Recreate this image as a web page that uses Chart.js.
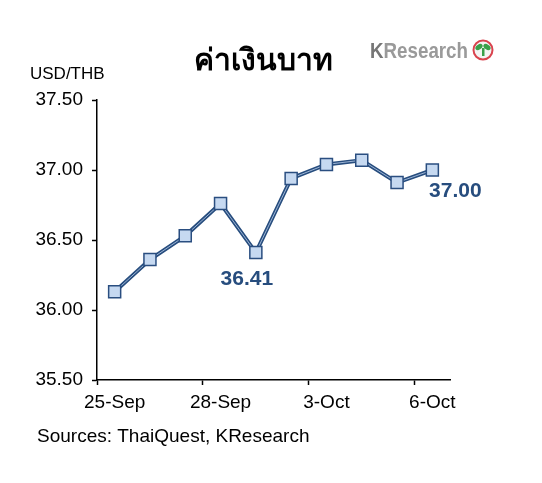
<!DOCTYPE html>
<html>
<head>
<meta charset="utf-8">
<script src="https://cdn.jsdelivr.net/npm/chart.js@4.4.0/dist/chart.umd.min.js"></script>
<style>
  html, body { margin: 0; padding: 0; background: #fff; }
  #wrap { position: relative; width: 542px; height: 483px; }
</style>
</head>
<body>
<div id="wrap"><canvas id="fxChart"></canvas></div>
<script>
// ข้อมูลค่าเงินบาท (USD/THB)
const dates = ['25-Sep', '26-Sep', '27-Sep', '28-Sep', '29-Sep', '2-Oct', '3-Oct', '4-Oct', '5-Oct', '6-Oct'];
const usdThb = [36.13, 36.36, 36.53, 36.76, 36.41, 36.94, 37.04, 37.07, 36.91, 37.00];
const yTicks = [35.5, 36.0, 36.5, 37.0, 37.5];
const labelledPoints = [4, 9]; // จุดที่มีป้ายค่า

const titleText = 'ค่าเงินบาท';
const unitText = 'USD/THB';
const sourceText = 'Sources: ThaiQuest, KResearch';
const blue = '#274d7e';

// ข้อความประกอบ, โลโก้ และป้ายค่า
const extras = {
  id: 'extras',
  afterDatasetsDraw(chart) {
    const ctx = chart.ctx;
    const meta = chart.getDatasetMeta(1);
    ctx.save();
    ctx.fillStyle = blue;
    ctx.font = 'bold 21px "Liberation Sans", Arial, sans-serif';
    ctx.textAlign = 'center';
    ctx.textBaseline = 'middle';
    labelledPoints.forEach(i => {
      const p = meta.data[i];
      const v = usdThb[i].toFixed(2);
      if (i === 4) ctx.fillText(v, p.x - 9, p.y + 27);
      else ctx.fillText(v, p.x + 23, p.y + 21);
    });
    ctx.restore();
  },
  afterDraw(chart) {
    const ctx = chart.ctx;
    ctx.save();
    ctx.fillStyle = '#000';
    ctx.textBaseline = 'alphabetic';
    ctx.textAlign = 'center';
    ctx.font = 'bold 30px "Noto Sans", "DejaVu Sans", sans-serif';
    ctx.fillText(titleText, 263, 70);

    ctx.textAlign = 'left';
    ctx.font = '17px "Liberation Sans", Arial, sans-serif';
    ctx.fillText(unitText, 30, 79);
    ctx.font = '19px "Liberation Sans", Arial, sans-serif';
    ctx.fillText(sourceText, 37, 442);

    // โลโก้ KResearch (บีบให้กว้าง ~98px)
    ctx.font = 'bold 22px "Liberation Sans", sans-serif';
    const kw = ctx.measureText('K').width;
    const rw = ctx.measureText('Research').width;
    ctx.save();
    ctx.translate(370, 58);
    ctx.scale(98 / (kw + rw), 1);
    ctx.fillStyle = '#767676';
    ctx.fillText('K', 0, 0);
    ctx.fillStyle = '#9a9a9a';
    ctx.fillText('Research', kw, 0);
    ctx.restore();
    ctx.beginPath();
    ctx.arc(483, 50, 9.5, 0, Math.PI * 2);
    ctx.fillStyle = '#f4f4f4';
    ctx.fill();
    ctx.lineWidth = 2;
    ctx.strokeStyle = '#d9434e';
    ctx.stroke();
    ctx.fillStyle = '#3aa04a';
    ctx.beginPath();
    ctx.ellipse(479, 47, 4, 2.5, -0.6, 0, Math.PI * 2);
    ctx.ellipse(487, 47, 4, 2.5, 0.6, 0, Math.PI * 2);
    ctx.fill();
    ctx.fillRect(482, 48, 2.5, 8);
    ctx.restore();
  }
};

new Chart(document.getElementById('fxChart'), {
  type: 'line',
  data: {
    labels: dates,
    datasets: [{
      // เส้นหนาสีเข้มด้านล่าง
      data: usdThb,
      borderColor: blue,
      borderWidth: 4,
      tension: 0,
      pointRadius: 0,
      order: 2
    }, {
      // เส้นในสีอ่อน + จุดสี่เหลี่ยม
      data: usdThb,
      borderColor: '#9db5d6',
      borderWidth: 1,
      tension: 0,
      pointStyle: 'rect',
      pointRadius: 8.5,
      pointHoverRadius: 8.5,
      pointBackgroundColor: '#c6d9f1',
      pointBorderColor: '#2a4e80',
      pointBorderWidth: 1.5,
      order: 1
    }]
  },
  options: {
    responsive: true,
    maintainAspectRatio: false,
    animation: false,
    events: [],
    layout: { padding: { left: 0, right: 92, top: 100, bottom: 63 } },
    plugins: { legend: { display: false }, tooltip: { enabled: false } },
    scales: {
      x: {
        type: 'category',
        offset: true,
        afterFit(s) { s.height = 40; },
        border: { display: true, color: '#000', width: 1.5 },
        grid: {
          offset: true,
          drawOnChartArea: false,
          drawTicks: true,
          tickLength: 5,
          tickWidth: 1.5,
          tickColor: c => (c.index % 3 === 0 ? '#000' : 'rgba(0,0,0,0)')
        },
        ticks: {
          autoSkip: false,
          maxRotation: 0,
          padding: 6,
          color: '#000',
          font: { family: '"Liberation Sans", Arial, sans-serif', size: 19 },
          callback: (v, i) => (i % 3 === 0 ? dates[i] : '')
        }
      },
      y: {
        min: yTicks[0],
        max: yTicks[yTicks.length - 1],
        afterFit(s) { s.width = 97; },
        afterBuildTicks(s) { s.ticks = yTicks.map(v => ({ value: v })); },
        border: { display: true, color: '#000', width: 1.5 },
        grid: {
          drawOnChartArea: false,
          drawTicks: true,
          tickLength: 5,
          tickWidth: 1.5,
          tickColor: '#000'
        },
        ticks: {
          padding: 9,
          color: '#000',
          font: { family: '"Liberation Sans", Arial, sans-serif', size: 19 },
          callback: v => Number(v).toFixed(2)
        }
      }
    }
  },
  plugins: [extras]
});
</script>
</body>
</html>
